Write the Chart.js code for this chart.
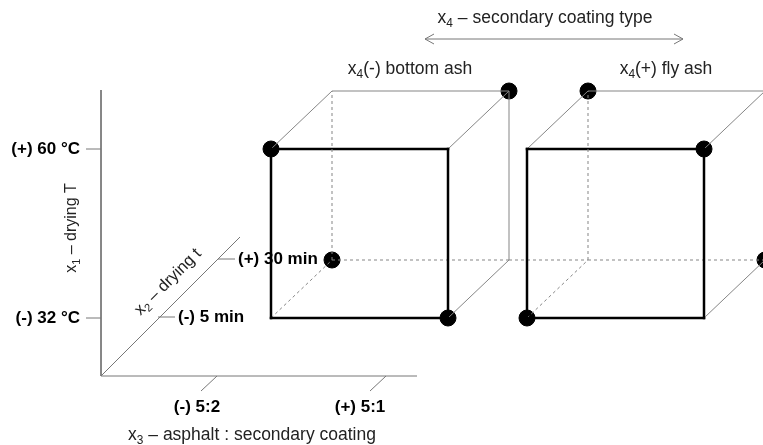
<!DOCTYPE html>
<html lang="en">
<head>
    <meta charset="UTF-8">
    <title>2^(4-1) design cube</title>
    <script src="https://cdn.jsdelivr.net/npm/chart.js"></script>
    <style>
        body { margin: 0; background: #fff; }
        #wrap { width: 763px; height: 445px; }
    </style>
</head>
<body>
<div id="wrap"><canvas id="cubeChart"></canvas></div>

<script>
    // factor levels (tick labels), low / high
    const x1Labels = ['(-) 32 °C', '(+) 60 °C'];
    const x2Labels = ['(-) 5 min', '(+) 30 min'];
    const x3Labels = ['(-) 5:2', '(+) 5:1'];
    const x4Labels = ['(-) bottom ash', '(+) fly ash'];

    // the 8 runs of the half fraction (coded -1 / +1)
    const runX1 = [ 1,  1, -1, -1,  1,  1, -1, -1];
    const runX2 = [-1,  1,  1, -1,  1, -1, -1,  1];
    const runX3 = [-1,  1, -1,  1, -1,  1, -1,  1];
    const runX4 = [-1, -1, -1, -1,  1,  1,  1,  1];

    // layout of the drawing (chart units, origin = corner of the axes)
    const L = {
        x1Level: [58, 227],     // height of x1 levels
        x3Front: [170, 347],    // x3 levels on the front face
        x4Shift: [0, 256],      // second cube moved right
        depthX: 61, depthY: 58, // x2 goes "into" the page
        x2Tick: [[57, 59], [117, 117]],
        x3Tick: [116, 285]
    };
    const idx = c => (c > 0 ? 1 : 0);

    function proj(x1, x2, x3, x4) {
        const d = idx(x2);
        return {
            x: L.x3Front[idx(x3)] + L.x4Shift[idx(x4)] + d * L.depthX,
            y: L.x1Level[idx(x1)] + d * L.depthY
        };
    }

    const GREY = '#858585';
    const datasets = [];

    function seg(points, style) {
        datasets.push(Object.assign({
            data: points, showLine: true, pointRadius: 0, borderColor: GREY,
            borderWidth: 1, fill: false
        }, style));
    }

    // axes
    seg([{x: 0, y: 286}, {x: 0, y: 0}, {x: 316, y: 0}], {borderColor: '#777'});
    seg([{x: 0, y: 0}, {x: 139, y: 139}], {borderColor: '#777'});
    L.x1Level.forEach(v => seg([{x: -15, y: v}, {x: 0, y: v}], {borderColor: '#777'}));
    L.x2Tick.forEach(t => seg([{x: t[0], y: t[1]}, {x: t[0] + 17, y: t[1]}], {borderColor: '#777'}));
    L.x3Tick.forEach(u => seg([{x: u, y: 0}, {x: u - 16, y: -15}], {borderColor: '#777'}));

    // cube edges, hidden ones (touching back-bottom-left corner) dashed
    [-1, 1].forEach(x4 => {
        const corners = [];
        [-1, 1].forEach(a => [-1, 1].forEach(b => [-1, 1].forEach(c => corners.push([a, b, c]))));
        corners.forEach(p => corners.forEach(q => {
            const diff = [0, 1, 2].filter(i => p[i] !== q[i]);
            if (diff.length !== 1 || p[diff[0]] > q[diff[0]]) return;
            // p,q = [x1,x2,x3]
            const front = p[1] < 0 && q[1] < 0;
            const hidden = [p, q].some(r => r[0] < 0 && r[1] > 0 && r[2] < 0);
            const style = front ? {borderColor: '#000', borderWidth: 2.5, borderCapStyle: 'square'}
                : hidden ? {borderDash: [3, 3]} : {};
            seg([proj(p[0], p[1], p[2], x4), proj(q[0], q[1], q[2], x4)], style);
        }));
    });
    // dashed link between the two cubes
    seg([proj(-1, 1, 1, -1), proj(-1, 1, -1, 1)], {borderDash: [3, 3]});

    // x4 arrow
    const ay = 337, a0 = 324, a1 = 582;
    seg([{x: a0, y: ay}, {x: a1, y: ay}], {borderColor: '#777'});
    seg([{x: a0 + 9, y: ay + 5}, {x: a0, y: ay}, {x: a0 + 9, y: ay - 5}], {borderColor: '#777'});
    seg([{x: a1 - 9, y: ay + 5}, {x: a1, y: ay}, {x: a1 - 9, y: ay - 5}], {borderColor: '#777'});

    // runs
    datasets.push({
        data: runX1.map((v, i) => proj(v, runX2[i], runX3[i], runX4[i])),
        showLine: false, pointRadius: 8, pointBackgroundColor: '#000',
        pointBorderColor: '#000', borderWidth: 1
    });

    // text, placed through the scales
    function rich(ctx, runs, x, y, size, bold, color, rot) {
        const f = s => (bold ? 'bold ' : '') + s + 'px "Liberation Sans", Arial, sans-serif';
        let w = 0;
        runs.forEach(r => { ctx.font = f(r.sub ? size * 0.68 : size); w += ctx.measureText(r.t).width; });
        ctx.save();
        ctx.translate(x, y);
        ctx.rotate(rot || 0);
        ctx.fillStyle = color;
        ctx.textBaseline = 'middle';
        ctx.textAlign = 'left';
        let cx = -w / 2;
        runs.forEach(r => {
            ctx.font = f(r.sub ? size * 0.68 : size);
            ctx.fillText(r.t, cx, r.sub ? size * 0.3 : 0);
            cx += ctx.measureText(r.t).width;
        });
        ctx.restore();
    }

    const textPlugin = {
        id: 'labels',
        afterDatasetsDraw(chart) {
            const ctx = chart.ctx, sx = chart.scales.x, sy = chart.scales.y;
            const P = (u, v) => [sx.getPixelForValue(u), sy.getPixelForValue(v)];
            ctx.save();
            ctx.textBaseline = 'middle';
            ctx.fillStyle = '#000';
            ctx.font = 'bold 17px "Liberation Sans", Arial, sans-serif';
            ctx.textAlign = 'right';
            x1Labels.forEach((t, i) => { const p = P(-21, L.x1Level[i]); ctx.fillText(t, p[0], p[1]); });
            ctx.textAlign = 'left';
            x2Labels.forEach((t, i) => {
                const p = P(L.x2Tick[i][0] + 20, L.x2Tick[i][1]);
                ctx.fillText(t, p[0], p[1]);
            });
            ctx.textAlign = 'center';
            [96, 259].forEach((u, i) => { const p = P(u, -31); ctx.fillText(x3Labels[i], p[0], p[1]); });
            ctx.restore();

            const ink = '#222';
            let p = P(-29, 148);
            rich(ctx, [{t: 'x'}, {t: '1', sub: true}, {t: ' – drying T'}], p[0], p[1], 16, false, ink, -Math.PI / 2);
            p = P(67, 94);
            rich(ctx, [{t: 'x'}, {t: '2', sub: true}, {t: ' – drying t'}], p[0], p[1], 16.5, false, ink, -Math.PI / 4);
            p = P(151, -59);
            rich(ctx, [{t: 'x'}, {t: '3', sub: true}, {t: ' – asphalt : secondary coating'}], p[0], p[1], 17.5, false, ink);
            p = P(444, 358);
            rich(ctx, [{t: 'x'}, {t: '4', sub: true}, {t: ' – secondary coating type'}], p[0], p[1], 17.5, false, ink);
            [309, 565].forEach((u, i) => {
                const q = P(u, 307);
                rich(ctx, [{t: 'x'}, {t: '4', sub: true}, {t: x4Labels[i]}], q[0], q[1], 17.5, false, ink);
            });
        }
    };

    new Chart(document.getElementById('cubeChart'), {
        type: 'scatter',
        data: { datasets: datasets },
        options: {
            responsive: true,
            maintainAspectRatio: false,
            animation: false,
            layout: { padding: 0, autoPadding: false },
            plugins: { legend: { display: false }, tooltip: { enabled: false } },
            scales: {
                x: { type: 'linear', min: -101, max: 662, display: false },
                y: { type: 'linear', min: -69, max: 376, display: false }
            }
        },
        plugins: [textPlugin]
    });
</script>
</body>
</html>
